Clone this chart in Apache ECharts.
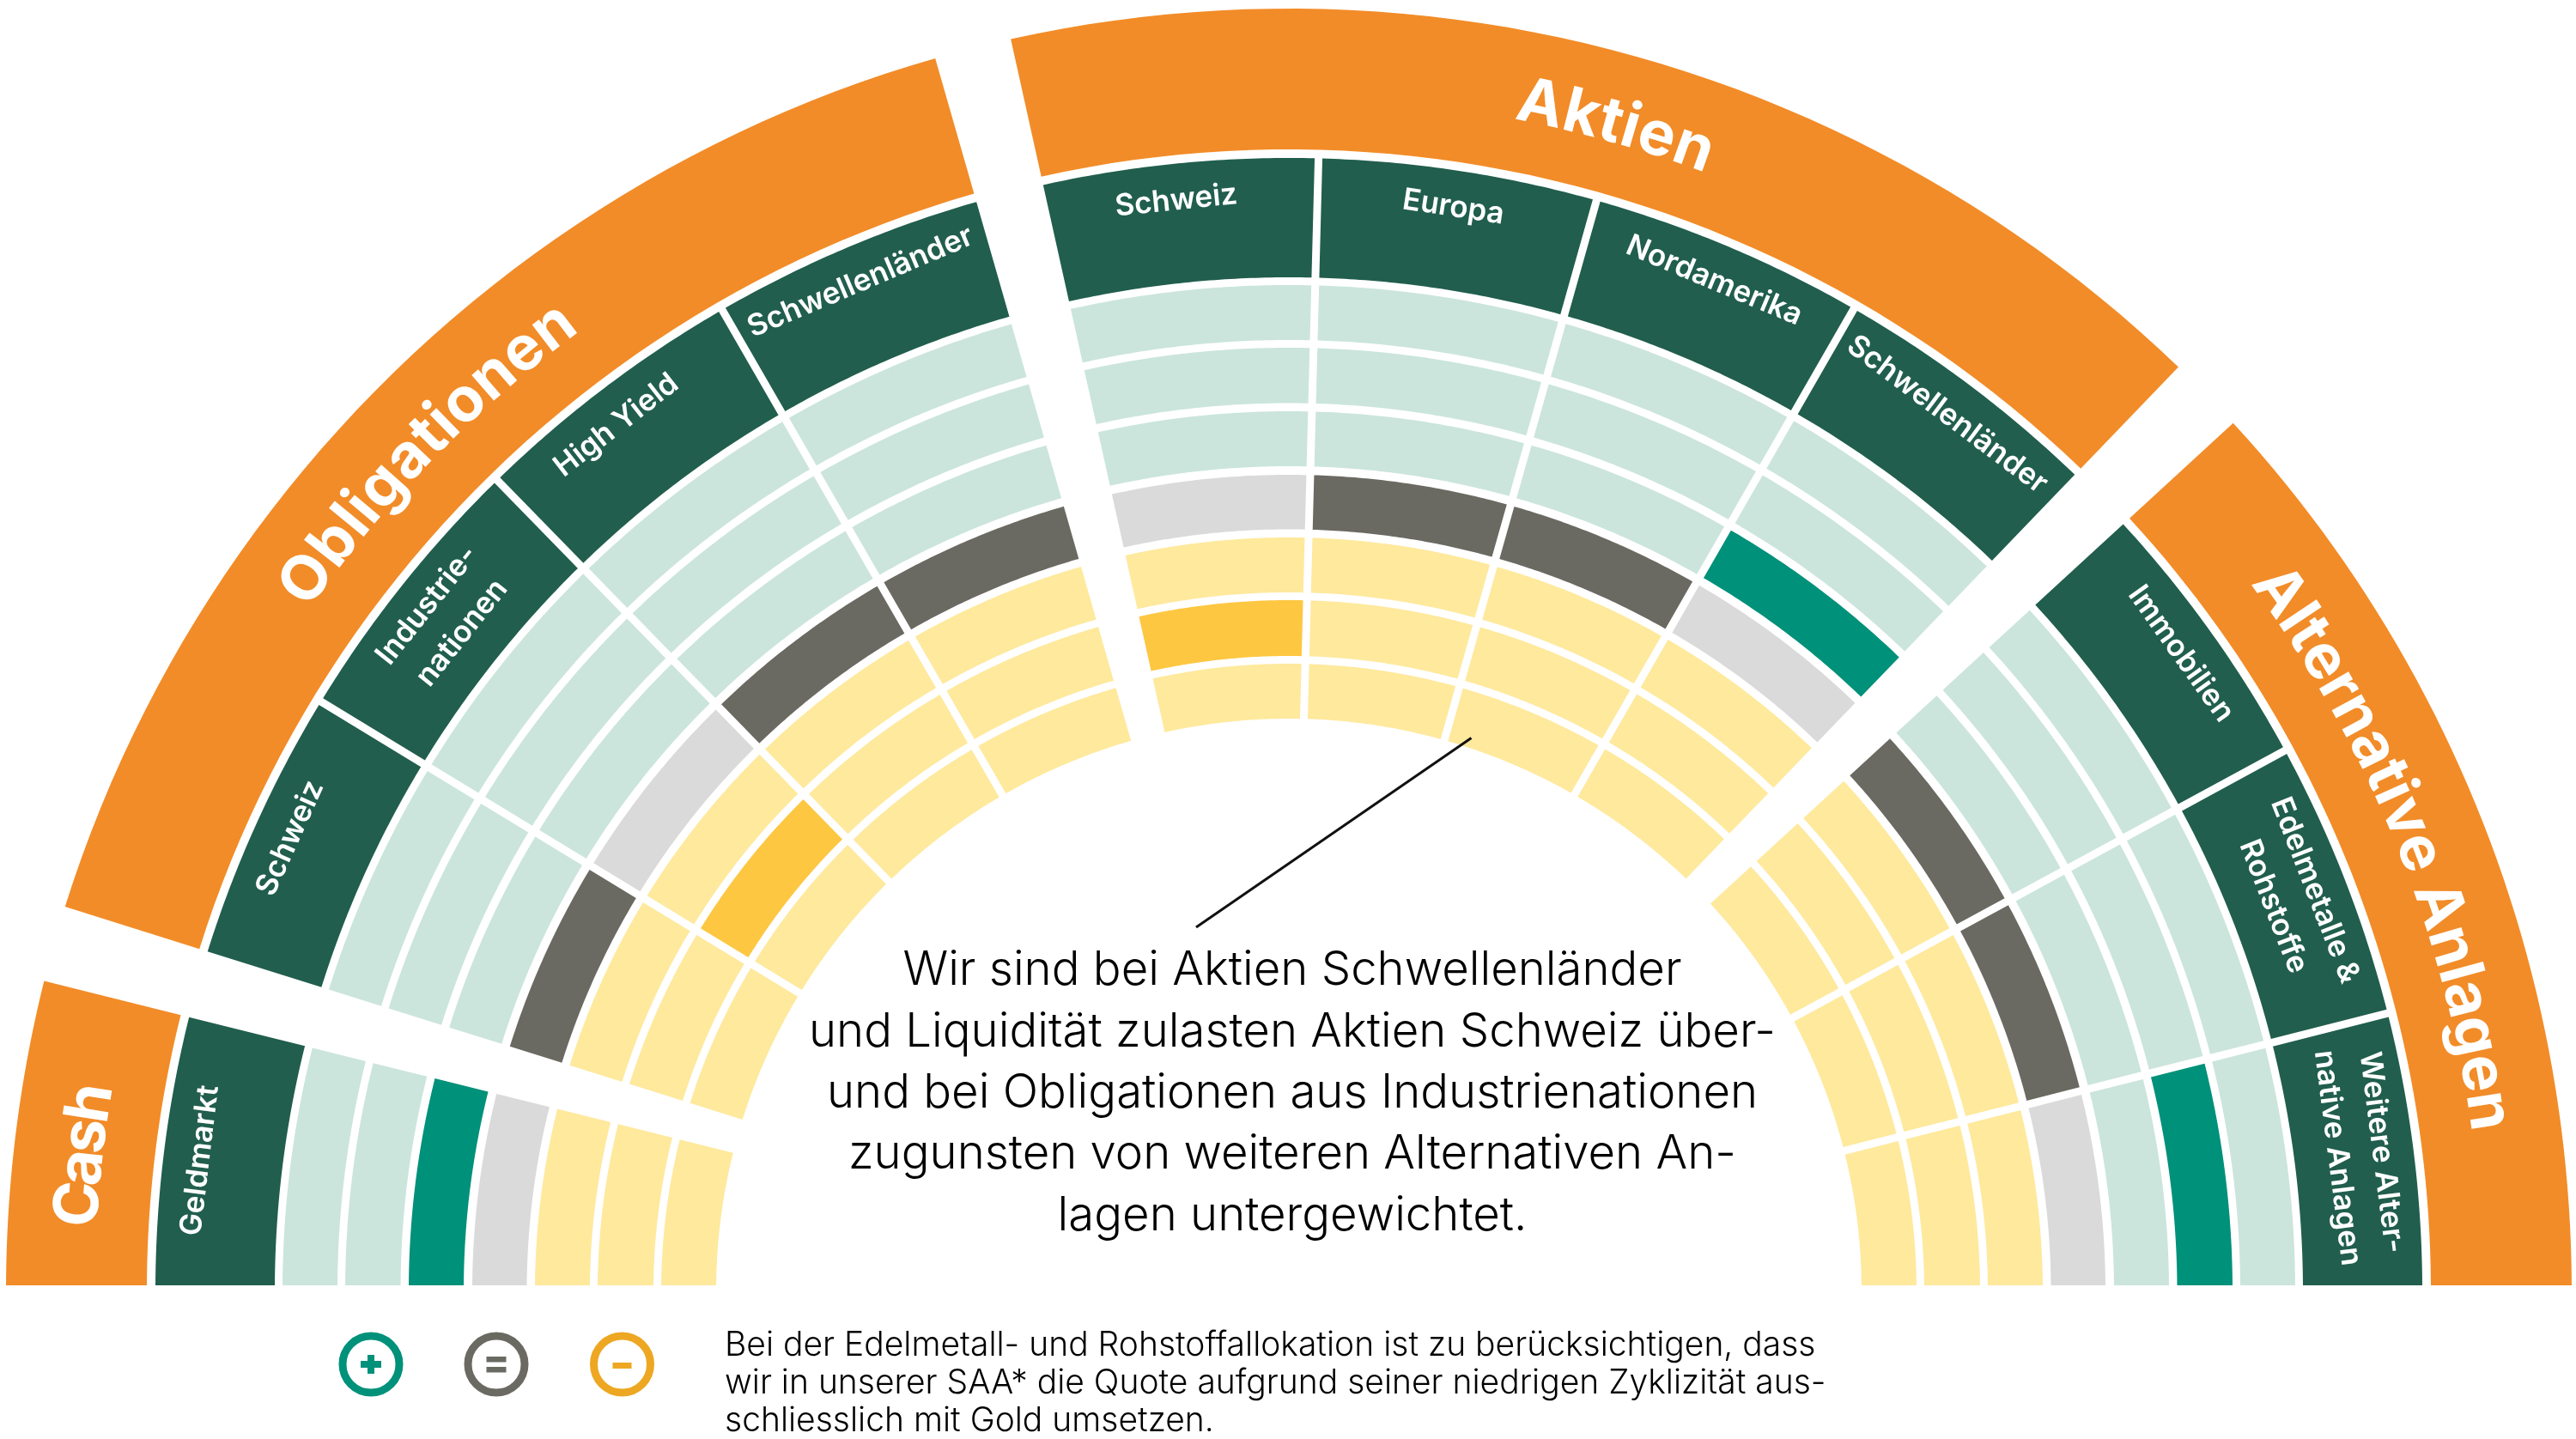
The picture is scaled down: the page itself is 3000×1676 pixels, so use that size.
<!DOCTYPE html>
<html><head><meta charset="utf-8">
<style>html,body{margin:0;padding:0;background:#fff}#c{width:3000px;height:1676px}</style>
<script src="https://cdn.jsdelivr.net/npm/echarts@6/dist/echarts.min.js"></script>
</head><body><div id="c"></div>
<script>
// ---- data ----
const classLabels = ['Cash', 'Obligationen', 'Aktien', 'Alternative Anlagen'];
const classStart = [null, 17.45, 77.48, 137.4];
const classEnd = [14.0, 74.0, 133.9, null];
const classTitleMid = [6.45, 44.2, 105.65, 158.0];
const classTitleSpan = [6.6, 18.8, 9.6, 28.7];
const columnLabels = ['Geldmarkt', 'Schweiz', 'Industrie-\nnationen', 'High Yield', 'Schwellenländer',
  'Schweiz', 'Europa', 'Nordamerika', 'Schwellenländer',
  'Immobilien', 'Edelmetalle &\nRohstoffe', 'Weitere Alter-\nnative Anlagen'];
const columnClass = [0, 1, 1, 1, 1, 2, 2, 2, 2, 3, 3, 3];
const columnDivider = [null, 31.36, 45.7, 60, null, 91.5, 105.75, 119.9, null, 151.5, 165.8, null];
const columnPosition = [1, 0, -2, 0, 0, -2, 0, 0, 1, 0, 0, 2];
const columnLabelNudge = [-0.3, 0, 0, -0.68, 0, -0.39, 0, 0, 0, 0, 0, 0];
const stances = [3, 2, 1, 0, -1, -2, -3];
const calloutLines = ['Wir sind bei Aktien Schwellenländer', 'und Liquidität zulasten Aktien Schweiz über-',
  'und bei Obligationen aus Industrienationen', 'zugunsten von weiteren Alternativen An-', 'lagen untergewichtet.'];
const footnoteLines = ['Bei der Edelmetall- und Rohstoffallokation ist zu berücksichtigen, dass',
  'wir in unserer SAA* die Quote aufgrund seiner niedrigen Zyklizität aus-',
  'schliesslich mit Gold umsetzen.'];

// ---- layout ----
const CX = 1501, CY = 1504, R = 1494, CUT = 7, GAP = 9;
const classBand = [1330, 1494], headBand = [1181, 1320];
const stanceBands = [[1108, 1172], [1034.5, 1099], [961, 1025], [887.5, 951], [814, 878], [740, 805], [667, 731]];
const C = { orange: '#F28C28', dark: '#215E4D', pos: '#CBE5DC', neu: '#DADADA', neg: '#FEE99D',
  teal: '#00917A', grey: '#6B6A62', amber: '#FDC741' };
const deg = Math.PI / 180;

function sideAngle(b, r, sign) {
  if (b.type === 'cutL') return Math.asin(CUT / r) / deg;
  if (b.type === 'cutR') return 180 - Math.asin(CUT / r) / deg;
  if (b.type === 'div') return b.a + sign * Math.asin(GAP / 2 / r) / deg;
  return b.a;
}
function classBound(i, isStart) {
  const v = isStart ? classStart[i] : classEnd[i];
  if (v === null) return { type: isStart ? 'cutL' : 'cutR' };
  return { type: 'edge', a: v };
}
const cells = [], labelsData = [];
classLabels.forEach((name, i) => {
  cells.push({ s: classBound(i, true), e: classBound(i, false), band: classBand, fill: C.orange });
});
columnLabels.forEach((name, j) => {
  const c = columnClass[j];
  const s = (j > 0 && columnClass[j - 1] === c) ? { type: 'div', a: columnDivider[j - 1] } : classBound(c, true);
  const e = columnDivider[j] !== null ? { type: 'div', a: columnDivider[j] } : classBound(c, false);
  cells.push({ s, e, band: headBand, fill: C.dark });
  stances.forEach((st, k) => {
    const p = columnPosition[j];
    let fill = st > 0 ? C.pos : st === 0 ? C.neu : C.neg;
    if (st === p) fill = p > 0 ? C.teal : p === 0 ? C.grey : C.amber;
    cells.push({ s, e, band: stanceBands[k], fill });
  });
  const aS = s.type === 'cutL' ? 0.3 : s.a, aE = e.type === 'cutR' ? 179.7 : e.a;
  labelsData.push({ text: name, a: (aS + aE) / 2 + columnLabelNudge[j], r: name.indexOf('\n') >= 0 ? 1257 : 1277,
    font: '600 35px Inter', lh: 52 });
});
// letters of the class titles follow the arc
const mctx = document.createElement('canvas').getContext('2d');
const titleFont = '700 72px Inter', titleR = 1412;
classLabels.forEach((name, i) => {
  mctx.font = titleFont;
  const chars = Array.from(name), widths = chars.map(ch => mctx.measureText(ch).width);
  const total = widths.reduce((a, b) => a + b, 0);
  let cum = 0;
  chars.forEach((ch, n) => {
    const a = classTitleMid[i] - classTitleSpan[i] / 2 + classTitleSpan[i] * (cum + widths[n] / 2) / total;
    cum += widths[n];
    if (ch !== ' ') labelsData.push({ text: ch, a, r: titleR, font: titleFont, lh: 80 });
  });
});

const chart = echarts.init(document.getElementById('c'), null, { renderer: 'canvas', width: 3000, height: 1676 });
const graphics = [];
calloutLines.forEach((t, i) => graphics.push({ type: 'text', x: 1505, y: 1131 + i * 71.3,
  style: { text: t, fill: '#000', font: '300 54.5px Inter', textAlign: 'center', textVerticalAlign: 'middle' } }));
footnoteLines.forEach((t, i) => graphics.push({ type: 'text', x: 844, y: 1567 + i * 44,
  style: { text: t, fill: '#000', font: '300 39px Inter', textAlign: 'left', textVerticalAlign: 'middle' } }));
graphics.push({ type: 'line', z: 20, shape: { x1: 1713.5, y1: 859.5, x2: 1393, y2: 1080 }, style: { stroke: '#111', lineWidth: 3 } });
[[432, '#00917A'], [578, '#6B6A62'], [724.5, '#EDA722']].forEach(([x, col]) => {
  graphics.push({ type: 'circle', shape: { cx: x, cy: 1589, r: 33 }, style: { fill: '#fff', stroke: col, lineWidth: 9 } });
});
graphics.push({ type: 'rect', shape: { x: 420, y: 1585, width: 24, height: 8 }, style: { fill: '#00917A' } });
graphics.push({ type: 'rect', shape: { x: 428, y: 1578, width: 8, height: 22 }, style: { fill: '#00917A' } });
graphics.push({ type: 'rect', shape: { x: 566.5, y: 1580, width: 23, height: 6.5 }, style: { fill: '#6B6A62' } });
graphics.push({ type: 'rect', shape: { x: 566.5, y: 1592, width: 23, height: 6.5 }, style: { fill: '#6B6A62' } });
graphics.push({ type: 'rect', shape: { x: 713.5, y: 1587, width: 22, height: 7 }, style: { fill: '#EDA722' } });

chart.setOption({
  animation: false,
  backgroundColor: '#fff',
  polar: { center: [CX, CY], radius: R },
  angleAxis: { type: 'value', min: 0, max: 360, startAngle: 180, clockwise: true, show: false },
  radiusAxis: { type: 'value', min: 0, max: R, show: false },
  graphic: { z: 20, elements: graphics },
  series: [{
    type: 'custom', coordinateSystem: 'polar', silent: true, clip: false,
    data: cells.map((c, i) => [c.band[1], i]),
    renderItem(params, api) {
      const c = cells[params.dataIndex], rI = c.band[0], rO = c.band[1];
      const pts = [], N = 48;
      const a0 = sideAngle(c.s, rO, 1), a1 = sideAngle(c.e, rO, -1), b0 = sideAngle(c.s, rI, 1), b1 = sideAngle(c.e, rI, -1);
      for (let i = 0; i <= N; i++) pts.push(api.coord([rO, a0 + (a1 - a0) * i / N]));
      for (let i = N; i >= 0; i--) pts.push(api.coord([rI, b0 + (b1 - b0) * i / N]));
      return { type: 'polygon', shape: { points: pts }, style: { fill: c.fill } };
    }
  }, {
    type: 'custom', coordinateSystem: 'polar', silent: true, clip: false, z: 5,
    data: labelsData.map((l, i) => [l.r, l.a]),
    renderItem(params, api) {
      const l = labelsData[params.dataIndex], p = api.coord([l.r, l.a]);
      return { type: 'text', x: p[0], y: p[1], rotation: (90 - l.a) * deg,
        style: { text: l.text, fill: '#fff', font: l.font, lineHeight: l.lh, textAlign: 'center', textVerticalAlign: 'middle' } };
    }
  }]
});
</script></body></html>
